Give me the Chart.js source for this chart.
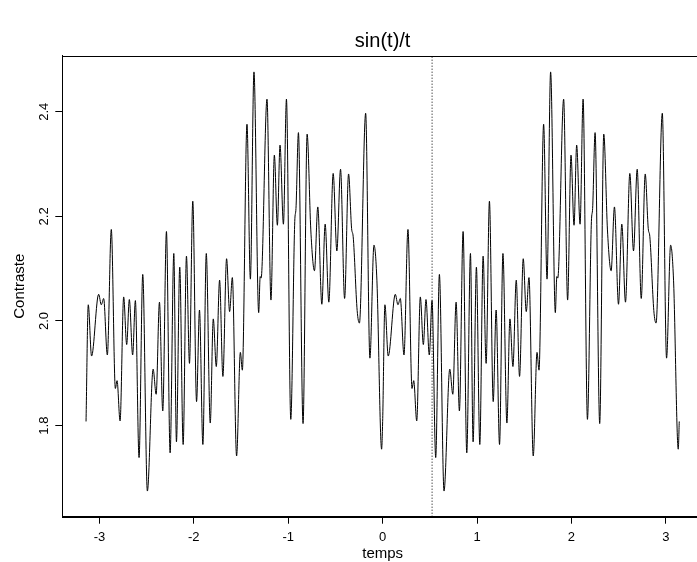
<!DOCTYPE html>
<html>
<head>
<meta charset="utf-8">
<script src="https://cdn.jsdelivr.net/npm/chart.js@4.4.1/dist/chart.umd.min.js"></script>
<style>
html,body{margin:0;padding:0;background:#fff;overflow:hidden;width:697px;height:562px;}
canvas{display:block;}
</style>
</head>
<body>
<canvas id="c" width="712" height="562" style="width:712px;height:562px"></canvas>
<script>
// temps (x) values
const temps = [
 -3.1416,-3.118,-3.083,-3.008,-2.980,-2.955,-2.916,-2.874,-2.831,-2.813,
 -2.781,-2.743,-2.711,-2.683,-2.648,-2.619,-2.580,-2.541,-2.492,-2.431,
 -2.399,-2.364,-2.329,-2.290,-2.251,-2.212,-2.184,-2.149,-2.113,-2.078,
 -2.046,-2.011,-1.971,-1.940,-1.904,-1.868,-1.826,-1.794,-1.762,-1.727,
 -1.692,-1.653,-1.621,-1.592,-1.547,-1.507,-1.486,-1.437,-1.401,-1.363,
 -1.313,-1.297,-1.287,-1.225,-1.183,-1.147,-1.115,-1.087,-1.051,-1.019,
 -0.973,-0.931,-0.918,-0.892,-0.843,-0.800,-0.761,-0.722,-0.687,-0.644,
 -0.609,-0.570,-0.524,-0.485,-0.446,-0.403,-0.361,-0.329,-0.312,-0.270,
 -0.246,-0.180,-0.135,-0.092,-0.061,-0.011,
 0.000,0.024,0.059,0.134,0.162,0.187,0.226,0.268,0.311,0.329,
 0.361,0.399,0.431,0.459,0.494,0.523,0.562,0.601,0.650,0.711,
 0.743,0.778,0.813,0.852,0.891,0.930,0.958,0.993,1.029,1.064,
 1.096,1.131,1.171,1.202,1.238,1.274,1.316,1.348,1.380,1.415,
 1.450,1.489,1.521,1.550,1.595,1.635,1.656,1.705,1.741,1.779,
 1.829,1.845,1.855,1.917,1.959,1.995,2.027,2.055,2.091,2.123,
 2.169,2.211,2.224,2.250,2.299,2.342,2.381,2.420,2.455,2.498,
 2.533,2.572,2.618,2.657,2.696,2.739,2.781,2.813,2.830,2.872,
 2.896,2.962,3.007,3.050,3.081,3.131,
 3.1416
];
// Contraste (y) values
const contraste = [
 1.808,2.031,1.933,2.051,2.031,2.043,1.935,2.175,1.871,1.886,
 1.809,2.046,1.955,2.041,1.935,2.039,1.739,2.089,1.675,1.908,
 1.860,2.036,1.828,2.171,1.748,2.129,1.769,2.103,1.764,2.124,
 1.919,2.229,1.846,2.021,1.764,2.129,1.805,2.004,1.913,2.078,
 1.894,2.119,2.018,2.083,1.742,1.940,1.906,2.376,2.080,2.476,
 2.016,2.085,2.082,2.424,2.040,2.317,2.183,2.336,2.185,2.424,
 1.812,2.190,2.215,2.360,1.804,2.357,2.174,2.096,2.218,2.032,
 2.185,2.036,2.282,2.134,2.290,2.043,2.281,2.177,2.161,2.020,
 1.996,2.397,1.929,2.145,2.078,1.755,
 1.808,2.031,1.933,2.051,2.031,2.043,1.935,2.175,1.871,1.886,
 1.809,2.046,1.955,2.041,1.935,2.039,1.739,2.089,1.675,1.908,
 1.860,2.036,1.828,2.171,1.748,2.129,1.769,2.103,1.764,2.124,
 1.919,2.229,1.846,2.021,1.764,2.129,1.805,2.004,1.913,2.078,
 1.894,2.119,2.018,2.083,1.742,1.940,1.906,2.376,2.080,2.476,
 2.016,2.085,2.082,2.424,2.040,2.317,2.183,2.336,2.185,2.424,
 1.812,2.190,2.215,2.360,1.804,2.357,2.174,2.096,2.218,2.032,
 2.185,2.036,2.282,2.134,2.290,2.043,2.281,2.177,2.161,2.020,
 1.996,2.397,1.929,2.145,2.078,1.755,
 1.808
];
const xTicks = [-3,-2,-1,0,1,2,3];
const yTicks = [1.8,2.0,2.2,2.4];
const xRange = [-3.393,3.393];
const yRange = [1.626,2.507];
const repere = 0.5236; // vertical dotted reference line

const FONT = '"Liberation Sans", Arial, Helvetica, sans-serif';

const textPlugin = {
  id: 'rtext',
  afterDraw(chart) {
    const {ctx, chartArea: a, scales: {x, y}} = chart;
    ctx.save();
    ctx.strokeStyle = '#000';
    ctx.lineWidth = 1;
    ctx.strokeRect(Math.round(a.left) + 0.5, Math.round(a.top) + 0.5,
                   Math.round(a.right - a.left), Math.round(a.bottom - a.top));
    ctx.fillStyle = '#000';
    ctx.textAlign = 'center';
    ctx.textBaseline = 'middle';
    ctx.font = '13px ' + FONT;
    xTicks.forEach(v => ctx.fillText(String(v), x.getPixelForValue(v), 537));
    yTicks.forEach(v => {
      ctx.save();
      ctx.translate(44, y.getPixelForValue(v));
      ctx.rotate(-Math.PI / 2);
      ctx.fillText(v.toFixed(1), 0, 0);
      ctx.restore();
    });
    ctx.font = '15px ' + FONT;
    ctx.fillText('temps', (a.left + a.right) / 2, 554);
    ctx.save();
    ctx.translate(20, (a.top + a.bottom) / 2);
    ctx.rotate(-Math.PI / 2);
    ctx.fillText('Contraste', 0, 0);
    ctx.restore();
    ctx.font = '20px ' + FONT;
    ctx.fillText('sin(t)/t', (a.left + a.right) / 2, 41);
    ctx.restore();
  }
};

new Chart(document.getElementById('c'), {
  type: 'line',
  data: {
    datasets: [
      {
        data: temps.map((t, i) => ({x: t, y: contraste[i]})),
        borderColor: '#000',
        borderWidth: 1,
        pointRadius: 0,
        fill: false,
        cubicInterpolationMode: 'monotone'
      },
      {
        data: [{x: repere, y: yRange[0]}, {x: repere, y: yRange[1]}],
        borderColor: '#000',
        borderWidth: 1,
        borderDash: [1, 2],
        pointRadius: 0,
        fill: false,
        tension: 0
      }
    ]
  },
  options: {
    responsive: false,
    animation: false,
    devicePixelRatio: 1,
    layout: {padding: {top: 55.7, right: 9, bottom: 0, left: 0}},
    plugins: {legend: {display: false}, tooltip: {enabled: false}, title: {display: false}},
    scales: {
      x: {
        type: 'linear',
        min: xRange[0], max: xRange[1],
        afterBuildTicks: s => { s.ticks = xTicks.map(v => ({value: v})); },
        afterFit: s => { s.height = 45.3; },
        ticks: {display: false},
        grid: {display: true, drawOnChartArea: false, drawTicks: true, tickLength: 7, color: '#000', lineWidth: 1},
        border: {display: true, color: '#000', width: 1}
      },
      y: {
        type: 'linear',
        min: yRange[0], max: yRange[1],
        afterBuildTicks: s => { s.ticks = yTicks.map(v => ({value: v})); },
        afterFit: s => { s.width = 62.3; },
        ticks: {display: false},
        grid: {display: true, drawOnChartArea: false, drawTicks: true, tickLength: 7, color: '#000', lineWidth: 1},
        border: {display: true, color: '#000', width: 1}
      }
    }
  },
  plugins: [textPlugin]
});
</script>
</body>
</html>
